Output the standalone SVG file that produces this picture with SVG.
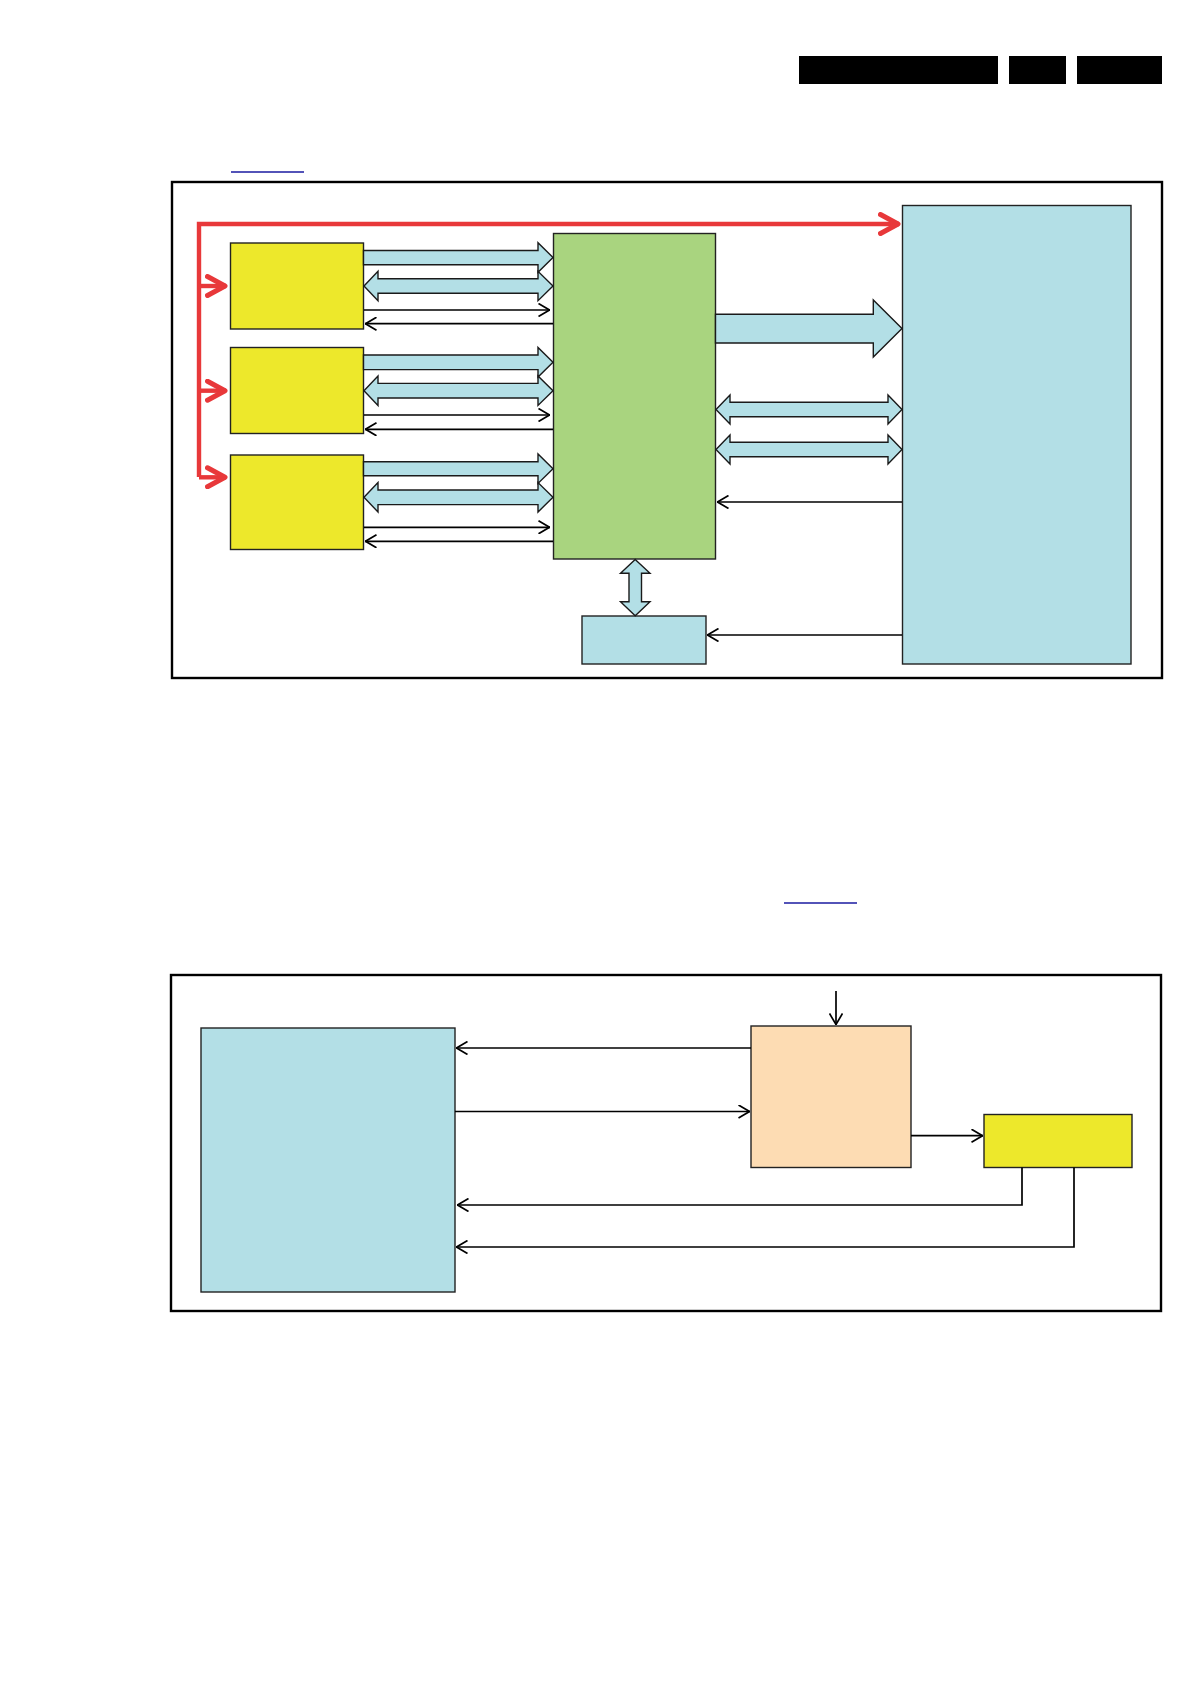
<svg xmlns="http://www.w3.org/2000/svg" width="1191" height="1684" viewBox="0 0 1191 1684">
<style>
.frame{fill:none;stroke:#000;stroke-width:2.4}
.box{stroke:#222;stroke-width:1.4}
.yellow{fill:#ede82b}
.green{fill:#a9d47f}
.blue{fill:#b3dfe6}
.peach{fill:#fddcb3}
.fat{fill:#b3dfe6;stroke:#1a1a1a;stroke-width:1.4;stroke-linejoin:miter}
.thin{fill:none;stroke:#000;stroke-width:1.7}
.red{fill:none;stroke:#e8383a;stroke-width:4.4}
.bar{fill:#000}
.link{stroke:#1a1aa0;stroke-width:1.5}
</style>
<defs>
<marker id="ah" viewBox="0 0 12 14" refX="12" refY="7" markerWidth="12" markerHeight="14" markerUnits="userSpaceOnUse" orient="auto">
<path d="M0.5,0.5 L11.5,7 L0.5,13.5" fill="none" stroke="#000" stroke-width="1.7"/>
</marker>
<marker id="rh" viewBox="0 0 24 24" refX="21" refY="12" markerWidth="24" markerHeight="24" markerUnits="userSpaceOnUse" orient="auto">
<path d="M2.5,2.5 L20,12 L2.5,21.5" fill="none" stroke="#e8383a" stroke-width="5" stroke-linecap="round" stroke-linejoin="round"/>
</marker>
</defs>
<rect width="1191" height="1684" fill="#fff"/>

<g id="header">
<rect class="bar" x="799" y="56" width="199" height="28"/>
<rect class="bar" x="1009" y="56" width="57" height="28"/>
<rect class="bar" x="1077" y="56" width="85" height="28"/>
<line class="link" x1="231" y1="172" x2="304" y2="172"/>
<line class="link" x1="784" y1="903" x2="857" y2="903"/>
</g>

<g id="frames">
<rect class="frame" x="172" y="182" width="990" height="496"/>
<rect class="frame" x="171" y="975" width="990" height="336"/>
</g>

<g id="node-yellow1"><rect class="box yellow" x="230.5" y="243" width="133" height="86"/></g>
<g id="node-yellow2"><rect class="box yellow" x="230.5" y="347.5" width="133" height="86"/></g>
<g id="node-yellow3"><rect class="box yellow" x="230.5" y="455" width="133" height="94.5"/></g>
<g id="node-green"><rect class="box green" x="553.5" y="233.5" width="162" height="325.5"/></g>
<g id="node-bluebig"><rect class="box blue" x="902.5" y="205.5" width="228.5" height="458.5"/></g>
<g id="node-bluesmall"><rect class="box blue" x="582" y="616" width="124" height="48"/></g>
<g id="node-blue2"><rect class="box blue" x="201" y="1028" width="254" height="264"/></g>
<g id="node-peach"><rect class="box peach" x="751" y="1026" width="160" height="141.5"/></g>
<g id="node-yellow4"><rect class="box yellow" x="984" y="1114.5" width="148" height="53"/></g>

<g id="connectors">
<polyline class="red" points="199,477 199,224 899,224" marker-end="url(#rh)"/>
<line class="red" x1="199" y1="286" x2="226" y2="286" marker-end="url(#rh)"/>
<line class="red" x1="199" y1="390.7" x2="226" y2="390.7" marker-end="url(#rh)"/>
<line class="red" x1="199" y1="477.3" x2="226" y2="477.3" marker-end="url(#rh)"/>

<path class="fat" d="M363.5,250.5 H538 V242.7 L553,257.5 L538,272.3 V264.7 H363.5 Z"/>
<path class="fat" d="M364,286 L378,271.3 V278.7 H538 V271.3 L553,286 L538,300.7 V293.3 H378 V300.7 Z"/>
<line class="thin" x1="364" y1="310" x2="550" y2="310" marker-end="url(#ah)"/>
<line class="thin" x1="553" y1="323.7" x2="365" y2="323.7" marker-end="url(#ah)"/>

<path class="fat" d="M363.5,355 H538 V347.5 L553,362.3 L538,377.1 V369.6 H363.5 Z"/>
<path class="fat" d="M364,390.7 L378,376 V383.4 H538 V376 L553,390.7 L538,405.4 V398 H378 V405.4 Z"/>
<line class="thin" x1="364" y1="415" x2="550" y2="415" marker-end="url(#ah)"/>
<line class="thin" x1="553" y1="429.3" x2="365" y2="429.3" marker-end="url(#ah)"/>

<path class="fat" d="M363.5,461.7 H538 V454 L553,468.7 L538,483.4 V475.7 H363.5 Z"/>
<path class="fat" d="M364,497.3 L378,482.6 V490 H538 V482.6 L553,497.3 L538,512 V504.6 H378 V512 Z"/>
<line class="thin" x1="364" y1="527.3" x2="550" y2="527.3" marker-end="url(#ah)"/>
<line class="thin" x1="553" y1="541.3" x2="365" y2="541.3" marker-end="url(#ah)"/>

<path class="fat" d="M715.5,314.3 H873.3 V300 L902,328.6 L873.3,357 V343 H715.5 Z"/>
<path class="fat" d="M716,409.5 L730,395 V402.3 H888 V395 L902,409.5 L888,424 V416.7 H730 V424 Z"/>
<path class="fat" d="M716,449.5 L730,435 V442.3 H888 V435 L902,449.5 L888,464 V456.7 H730 V464 Z"/>
<line class="thin" x1="902" y1="502" x2="717" y2="502" marker-end="url(#ah)"/>

<path class="fat" d="M635.2,559.5 L650,573.3 H641.5 V601.7 H650 L635.2,615.7 L620.5,601.7 H629 V573.3 H620.5 Z"/>
<line class="thin" x1="902" y1="635" x2="707" y2="635" marker-end="url(#ah)"/>

<line class="thin" x1="836" y1="991" x2="836" y2="1025" marker-end="url(#ah)"/>
<line class="thin" x1="751" y1="1048" x2="456" y2="1048" marker-end="url(#ah)"/>
<line class="thin" x1="455" y1="1111.5" x2="750" y2="1111.5" marker-end="url(#ah)"/>
<line class="thin" x1="911" y1="1135.7" x2="983" y2="1135.7" marker-end="url(#ah)"/>
<polyline class="thin" points="1022,1167.5 1022,1205 457,1205" marker-end="url(#ah)"/>
<polyline class="thin" points="1074,1167.5 1074,1247 456,1247" marker-end="url(#ah)"/>
</g>
</svg>
